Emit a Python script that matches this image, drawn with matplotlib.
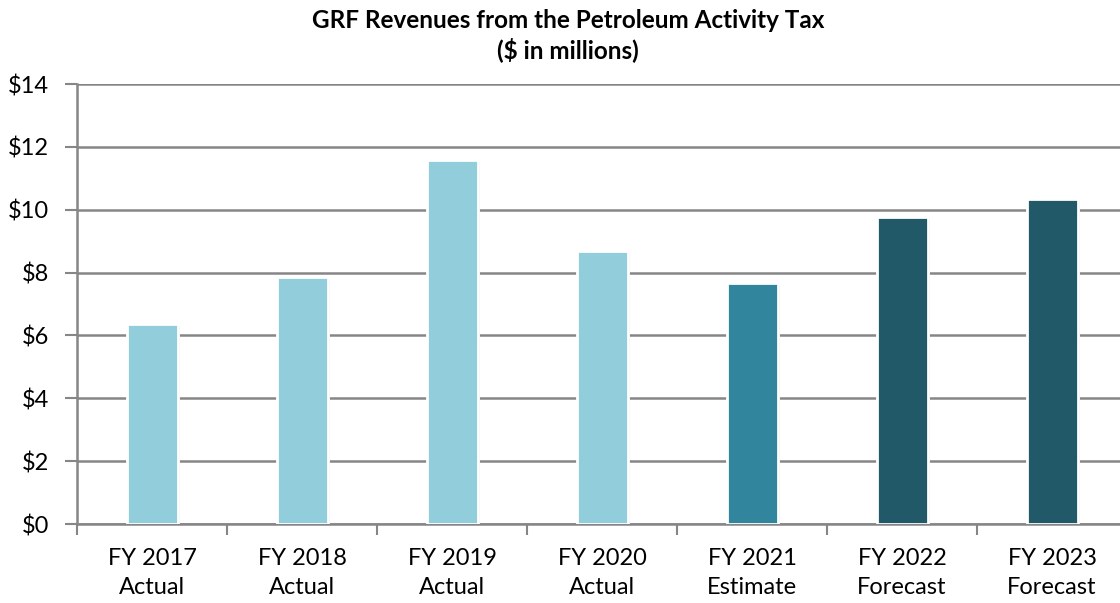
import matplotlib
matplotlib.use("Agg")
import matplotlib.pyplot as plt
import matplotlib.patheffects as pe
import numpy as np

categories = ["FY 2017\nActual", "FY 2018\nActual", "FY 2019\nActual", "FY 2020\nActual",
              "FY 2021\nEstimate", "FY 2022\nForecast", "FY 2023\nForecast"]
values = [6.35, 7.85, 11.57, 8.69, 7.66, 9.76, 10.35]
bar_colors = ["#92CDDC", "#92CDDC", "#92CDDC", "#92CDDC", "#31859C", "#215968", "#215968"]
yticks = [0, 2, 4, 6, 8, 10, 12, 14]
ytick_labels = ["$0", "$2", "$4", "$6", "$8", "$10", "$12", "$14"]
title = "GRF Revenues from the Petroleum Activity Tax\n($ in millions)"

plt.rcParams['font.family'] = ['Lato', 'DejaVu Sans']

fig = plt.figure(figsize=(11.2, 6.03), dpi=100)
ax = fig.add_axes([77/1120, (603-524)/603, 1050/1120, 440/603])

x = np.arange(len(categories))
bars = ax.bar(x, values, width=0.34, color=bar_colors, edgecolor="white", linewidth=2, zorder=3)
for b in bars:
    b.set_path_effects([pe.SimplePatchShadow(offset=(1.5, -1), shadow_rgbFace="#888888", alpha=0.6), pe.Normal()])

ax.set_xlim(-0.5, len(categories) - 0.5)
ax.set_ylim(0, 14)
ax.set_yticks(yticks)
ax.set_yticklabels(ytick_labels, fontsize=17, color="#000000")
ax.yaxis.grid(True, color="#868686", linewidth=1.8, zorder=0)
ax.set_axisbelow(True)

ax.set_xticks(x)
ax.set_xticklabels(categories, fontsize=17, linespacing=1.5, color="#000000")
ax.set_xticks(np.arange(-0.5, len(categories)), minor=True)
ax.tick_params(axis="x", which="major", length=0, pad=17)
ax.tick_params(axis="x", which="minor", length=8, width=1.5, color="#868686")
ax.tick_params(axis="y", length=9, width=1.5, color="#868686", pad=11)

for s in ["top", "right"]:
    ax.spines[s].set_visible(False)
for s in ["left", "bottom"]:
    ax.spines[s].set_color("#868686")
    ax.spines[s].set_linewidth(1.8)

fig.text(568/1120, 1 - 9/603, title, ha="center", va="top", fontsize=17.5,
         fontweight="bold", linespacing=1.25)

fig.savefig("out.png", dpi=100)
